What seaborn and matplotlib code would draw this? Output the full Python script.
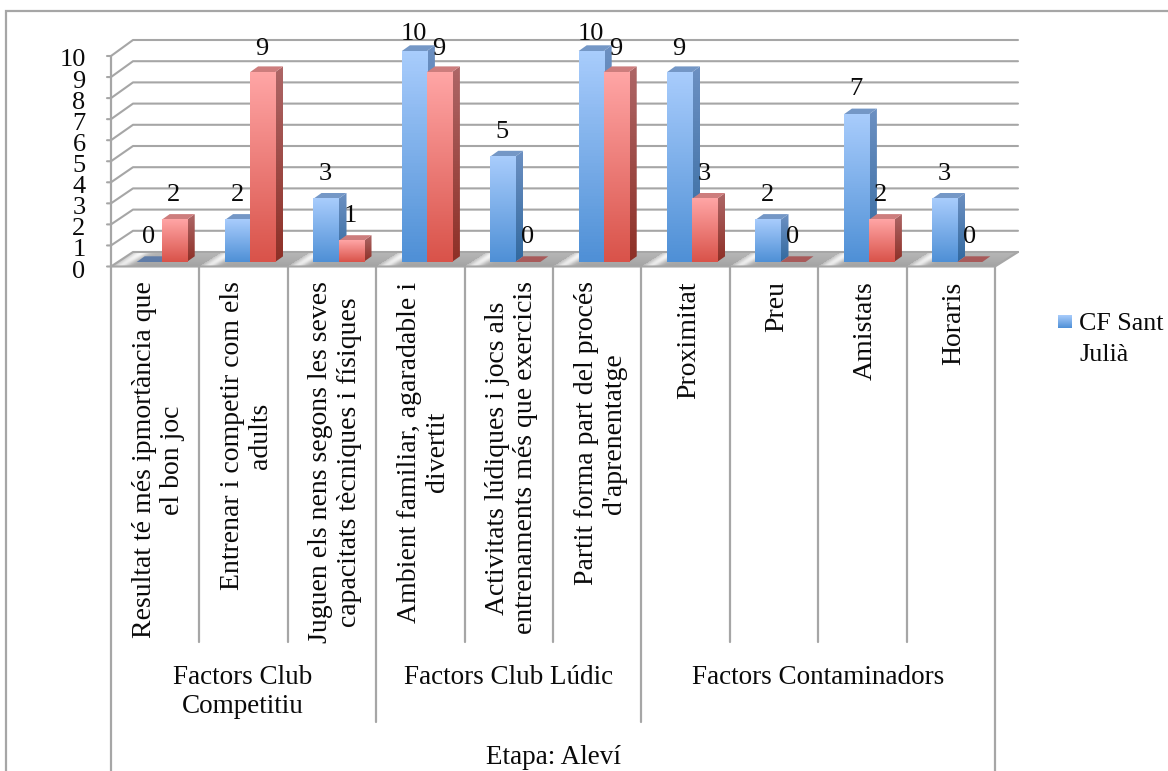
import numpy as np
import pandas as pd
import matplotlib
matplotlib.use("Agg")
import matplotlib.pyplot as plt
from matplotlib.colors import LinearSegmentedColormap, to_rgb
from matplotlib.patches import Polygon, Rectangle
from matplotlib.transforms import ScaledTranslation
import seaborn as sns

categories = [
    "Resultat té més ipmortància que\nel bon joc",
    "Entrenar i competir com els\nadults",
    "Juguen els nens segons les seves\ncapacitats tècniques i físiques",
    "Ambient familiar, agaradable i\ndivertit",
    "Activitats lúdiques i jocs als\nentrenaments més que exercicis",
    "Partit forma part del procés\nd'aprenentatge",
    "Proximitat",
    "Preu",
    "Amistats",
    "Horaris",
]
blue_values = [0, 2, 3, 10, 5, 10, 9, 2, 7, 3]
red_values = [2, 9, 1, 9, 0, 9, 3, 0, 2, 0]
series_names = ["CF Sant Julià", "Sèrie 2"]
groups = ["Factors Club\nCompetitiu", "Factors Club Lúdic", "Factors Contaminadors"]
stage = "Etapa: Aleví"
y_ticks = list(range(11))

W, H = 1168, 771
GRID = "#a6a6a6"
FONT = "Liberation Serif"
TXT = "#0a0a0a"

sns.set_theme(style="white")
plt.rcParams["font.family"] = [FONT, "DejaVu Serif"]
fig = plt.figure(figsize=(W / 100, H / 100), dpi=100, facecolor="white")

# pixel-space layer: frame, walls, floor, dividers, group labels
bg = fig.add_axes([0, 0, 1, 1], zorder=0)
bg.set_xlim(0, W)
bg.set_ylim(H, 0)
bg.axis("off")

bg.plot([6, 6, W], [H, 11, 11], color=GRID, lw=1.6, solid_joinstyle="miter")

X0, X1, DX = 111, 995, 22
Y0, UNIT, BACK0, BUNIT = 266.5, 21.05, 252, 21.2
for t in y_ticks:
    y, yb = Y0 - UNIT * t, BACK0 - BUNIT * t
    bg.plot([107, X0, X0 + DX, X1 + DX + 1], [y, y, yb, yb], color=GRID, lw=1.5)
bg.plot([X0, X0], [Y0 - UNIT * 10, H], color=GRID, lw=1.6)

# floor
floor = Polygon([(X0, Y0), (X1, Y0), (X1 + DX + 1, BACK0), (X0 + DX, BACK0)],
                closed=True, facecolor="none", edgecolor="none")
bg.add_patch(floor)
xx, yy = np.meshgrid(np.arange(X0, X1 + DX + 2), np.arange(BACK0, Y0 + 1))
phase = ((xx + (yy - Y0) * 1.6 - X0) % 88.4) / 88.4
sheen = np.clip(0.72 + 0.26 * np.exp(-((phase - 0.10) / 0.09) ** 2), 0, 1)
shade = np.clip(sheen - 0.08 * (yy - BACK0) / (Y0 - BACK0), 0, 1)
im = bg.imshow(shade, cmap="gray", vmin=0, vmax=1, aspect="auto",
               extent=(X0, X1 + DX + 2, Y0 + 0.5, BACK0 - 0.5), zorder=1)
im.set_clip_path(floor)
bg.plot([X0, X1, X1 + DX + 1], [Y0, Y0, BACK0], color=GRID, lw=1.5, zorder=2)
bg.set_xlim(0, W)
bg.set_ylim(H, 0)

# dividers
cat_w = (X1 - X0) / len(categories)
for i in range(1, len(categories) + 1):
    x = X0 + i * cat_w
    end = H if i == 10 else (722 if i in (3, 6) else 642)
    bg.plot([x, x], [Y0, end], color=GRID, lw=1.6)
GFS = 19.5
bg.text(243, 692, groups[0], fontsize=GFS, ha="center", va="center", color=TXT, linespacing=1.25)
bg.text(509, 677, groups[1], fontsize=GFS, ha="center", va="center", color=TXT)
bg.text(818, 677, groups[2], fontsize=GFS, ha="center", va="center", color=TXT)
bg.text(554, 757, stage, fontsize=GFS, ha="center", va="center", color=TXT)

# bars through seaborn
YTOP = 11
ax = fig.add_axes([117.5 / W, 1 - 262 / H, 884 / W, 21.1 * YTOP / H], zorder=1)
ax.patch.set_visible(False)
n = len(categories)
df = pd.DataFrame({
    "cat": list(range(n)) * 2,
    "value": blue_values + red_values,
    "series": [series_names[0]] * n + [series_names[1]] * n,
})
sns.barplot(data=df, x="cat", y="value", hue="series", hue_order=series_names,
            palette=["#7fb0e8", "#ee8078"], width=0.566, gap=0, dodge=True,
            legend=False, saturation=1, ax=ax)
ax.set_xlim(-0.5, n - 0.5)
ax.set_ylim(0, YTOP)
ax.set_xlabel("")
ax.set_ylabel("")
sns.despine(ax=ax, left=True, bottom=True)


def cmap2(top, bottom):
    return LinearSegmentedColormap.from_list("g", [to_rgb(bottom), to_rgb(top)])


styles = {
    0: dict(front=cmap2("#a8ccfc", "#4f90d6"), side=cmap2("#6c90c2", "#32699f"), top="#7497c6", flat="#5f7ca8"),
    1: dict(front=cmap2("#ffa5a5", "#d9534a"), side=cmap2("#ad6666", "#8e3027"), top="#cd7d7d", flat="#a85a5a"),
}
ddx = 8 / 88.4
ddy = 5.7 / 21.1
grad = np.linspace(1, 0, 64).reshape(-1, 1)
bars = [p for p in ax.patches if isinstance(p, Rectangle)]
blue_red = [(0, b) for b in bars[:n]] + [(1, b) for b in bars[n:2 * n]]
blue_red.sort(key=lambda t: t[1].get_x())
for k, (s, b) in enumerate(blue_red):
    x, w, h = b.get_x(), b.get_width(), b.get_height()
    st = styles[s]
    z = 3 + k
    if h == 0:
        ax.add_patch(Polygon([(x, 0), (x + w, 0), (x + w + ddx, ddy), (x + ddx, ddy)],
                             closed=True, fc=st["flat"], ec="none", zorder=z))
        b.set_visible(False)
        continue
    side = Polygon([(x + w, 0), (x + w + ddx, ddy), (x + w + ddx, h + ddy), (x + w, h)],
                   closed=True, fc="none", ec="none", zorder=z)
    ax.add_patch(side)
    sim = ax.imshow(grad, cmap=st["side"], vmin=0, vmax=1, aspect="auto",
                    extent=(x + w, x + w + ddx, 0, h + ddy), zorder=z)
    sim.set_clip_path(side)
    ax.add_patch(Polygon([(x, h), (x + w, h), (x + w + ddx, h + ddy), (x + ddx, h + ddy)],
                         closed=True, fc=st["top"], ec="none", zorder=z))
    b.set_zorder(z)
    b.set_facecolor("none")
    b.set_edgecolor("none")
    fim = ax.imshow(grad, cmap=st["front"], vmin=0, vmax=1, aspect="auto",
                    extent=(x, x + w, 0, h), zorder=z + 0.5)
ax.set_xlim(-0.5, n - 0.5)
ax.set_ylim(0, YTOP)

for s, b in blue_red:
    v = b.get_height()
    off = 25 if v < 9 else (23 if v == 9 else 17)
    ax.annotate(f"{int(v)}", (b.get_x() + b.get_width() / 2, v), xytext=(-0.4, off * 0.72),
                textcoords="offset points", ha="center", va="center",
                fontsize=19, color=TXT, zorder=60, annotation_clip=False)

# axis labels
ax.set_yticks(y_ticks)
ax.set_yticklabels([str(t) for t in y_ticks], fontsize=19, color=TXT)
ax.tick_params(axis="y", length=0, pad=23)
for lab in ax.get_yticklabels():
    lab.set_transform(lab.get_transform() + ScaledTranslation(0, -7 / 100, fig.dpi_scale_trans))
ax.set_xticks(range(n))
ax.set_xticklabels(categories, rotation=90, fontsize=20, ha="center", va="top",
                   multialignment="center", color=TXT, linespacing=1.16)
ax.tick_params(axis="x", length=0, pad=14)
for lab in ax.get_xticklabels():
    lab.set_transform(lab.get_transform() + ScaledTranslation(-3.5 / 100, 0, fig.dpi_scale_trans))

# legend
bg.imshow(grad, cmap=styles[0]["front"], vmin=0, vmax=1, aspect="auto",
          extent=(1058, 1072, 328, 315), zorder=3)
bg.set_xlim(0, W)
bg.set_ylim(H, 0)
bg.text(1079, 324, "CF Sant", fontsize=18.7, ha="left", va="center", color=TXT)
bg.text(1079, 355, "Julià", fontsize=18.7, ha="left", va="center", color=TXT)

fig.savefig("out.png", dpi=100)
